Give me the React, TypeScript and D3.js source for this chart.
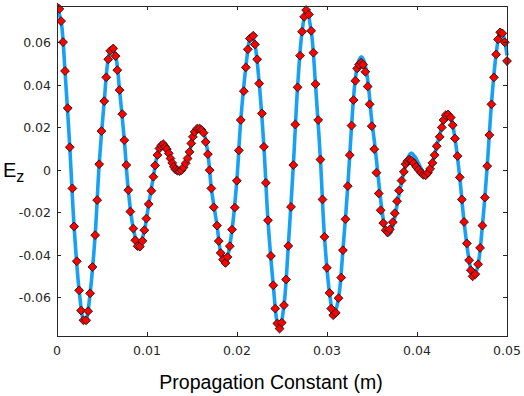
import React from 'react';
import * as d3 from 'd3';

// measured points (red diamonds): [x, Ez]
const markerData: [number, number][] = [
  [0.0, 0.0767], [0.00026, 0.0759], [0.00045, 0.0702], [0.00067, 0.0603], [0.00089, 0.0467],
  [0.00119, 0.0292], [0.00142, 0.0108], [0.00171, -0.0086], [0.0019, -0.0265], [0.0022, -0.0429],
  [0.00246, -0.0566], [0.00268, -0.0661], [0.00294, -0.0707], [0.00324, -0.0707], [0.00346, -0.0664],
  [0.00368, -0.058], [0.00394, -0.0456], [0.00424, -0.0306], [0.00446, -0.0141], [0.00469, 0.0028],
  [0.00494, 0.0184], [0.00525, 0.0325], [0.00547, 0.0437], [0.00569, 0.0522], [0.00592, 0.0562],
  [0.00625, 0.0573], [0.00651, 0.0537], [0.0067, 0.0471], [0.00695, 0.0377], [0.00725, 0.0264],
  [0.00748, 0.0141], [0.0077, 0.0024], [0.00792, -0.0094], [0.00815, -0.0195], [0.00848, -0.0275],
  [0.0087, -0.033], [0.00896, -0.0358], [0.00921, -0.036], [0.00949, -0.0333], [0.00971, -0.0283],
  [0.00993, -0.0228], [0.01019, -0.016], [0.01049, -0.0097], [0.01071, -0.0031], [0.0109, 0.0022],
  [0.01116, 0.0071], [0.01138, 0.0102], [0.01157, 0.0115], [0.0118, 0.0123], [0.01202, 0.011],
  [0.0122, 0.0099], [0.01242, 0.0079], [0.01261, 0.0055], [0.0128, 0.0034], [0.01298, 0.0016],
  [0.01317, 0.0003], [0.01339, -0.0003], [0.01362, -0.0005], [0.01384, 0.0], [0.01406, 0.0013],
  [0.01429, 0.0032], [0.01451, 0.0055], [0.01473, 0.0086], [0.01492, 0.0126], [0.0151, 0.0157],
  [0.01529, 0.018], [0.01559, 0.0196], [0.01585, 0.0196], [0.01607, 0.0189], [0.01629, 0.0176],
  [0.01652, 0.0133], [0.01677, 0.0075], [0.01696, 0.0], [0.01715, -0.0086], [0.01741, -0.0175],
  [0.01778, -0.0261], [0.01797, -0.0334], [0.01819, -0.039], [0.01845, -0.0421], [0.01872, -0.0437],
  [0.01894, -0.0409], [0.0192, -0.0358], [0.01945, -0.028], [0.01975, -0.0176], [0.01998, -0.005],
  [0.0202, 0.0093], [0.02042, 0.0236], [0.02076, 0.0372], [0.02098, 0.0484], [0.0212, 0.0569],
  [0.02143, 0.062], [0.0218, 0.0633], [0.02199, 0.0592], [0.02224, 0.0522], [0.02247, 0.0408],
  [0.02277, 0.0267], [0.02299, 0.011], [0.02321, -0.006], [0.02344, -0.0236], [0.02377, -0.0404],
  [0.02403, -0.0542], [0.02425, -0.0652], [0.02448, -0.0722], [0.02473, -0.0746], [0.02497, -0.0718],
  [0.02522, -0.0636], [0.02545, -0.0515], [0.0257, -0.0357], [0.026, -0.0173], [0.02626, 0.0024],
  [0.02648, 0.0215], [0.02673, 0.039], [0.02701, 0.0539], [0.02723, 0.0652], [0.02746, 0.0722],
  [0.02768, 0.0754], [0.02799, 0.0733], [0.02824, 0.0656], [0.02849, 0.0553], [0.02872, 0.0405],
  [0.02902, 0.0236], [0.02927, 0.005], [0.0295, -0.0138], [0.02972, -0.0314], [0.02999, -0.046],
  [0.03028, -0.0578], [0.03047, -0.0652], [0.03069, -0.0683], [0.03097, -0.0672], [0.03128, -0.0603],
  [0.03158, -0.0506], [0.03177, -0.0377], [0.03205, -0.0231], [0.03231, -0.0075], [0.03253, 0.0071],
  [0.03273, 0.021], [0.03295, 0.033], [0.03315, 0.0421], [0.03335, 0.0479], [0.03356, 0.0497],
  [0.03378, 0.0506], [0.03401, 0.0497], [0.03426, 0.0463], [0.03452, 0.0394], [0.03474, 0.031],
  [0.03497, 0.0207], [0.03525, 0.0099], [0.03549, -0.0012], [0.03575, -0.011], [0.03596, -0.0189],
  [0.03625, -0.0249], [0.03652, -0.0283], [0.03674, -0.0293], [0.03698, -0.0279], [0.03731, -0.0245],
  [0.03753, -0.0203], [0.03778, -0.0146], [0.03801, -0.0096], [0.03828, -0.0049], [0.03854, -0.0008],
  [0.03873, 0.0028], [0.03893, 0.0042], [0.03915, 0.005], [0.0394, 0.0045], [0.03965, 0.0032],
  [0.03992, 0.0016], [0.04018, 0.0002], [0.04044, -0.0012], [0.0407, -0.0022], [0.04096, -0.0024],
  [0.04122, -0.0012], [0.04146, 0.0006], [0.04171, 0.0034], [0.04196, 0.0071], [0.04219, 0.0113],
  [0.04252, 0.0157], [0.04275, 0.0201], [0.04295, 0.0236], [0.04319, 0.0259], [0.04345, 0.0262],
  [0.04375, 0.0248], [0.04397, 0.0212], [0.04422, 0.0149], [0.0445, 0.0066], [0.04475, -0.0034],
  [0.04498, -0.0138], [0.04523, -0.0244], [0.04554, -0.0345], [0.04579, -0.0424], [0.04598, -0.0471],
  [0.04618, -0.05], [0.04648, -0.049], [0.04679, -0.0443], [0.04701, -0.0366], [0.04727, -0.0261],
  [0.04754, -0.0129], [0.0478, 0.0019], [0.04804, 0.0165], [0.04827, 0.031], [0.04855, 0.0437],
  [0.04879, 0.0545], [0.049, 0.0616], [0.04924, 0.0649], [0.04948, 0.0644], [0.04975, 0.0602],
  [0.05, 0.0514],
];

// reference curve (blue line): [x, Ez]
const lineData: [number, number][] = [
  [0.0, 0.0767], [0.00045, 0.0702], [0.00089, 0.0467], [0.00142, 0.0108], [0.0019, -0.0265],
  [0.00246, -0.0566], [0.00294, -0.0707], [0.00309, -0.0712], [0.00324, -0.0707], [0.00368, -0.058],
  [0.00424, -0.0306], [0.00469, 0.0028], [0.00525, 0.0325], [0.00569, 0.0522], [0.00608, 0.0575],
  [0.00651, 0.0537], [0.00695, 0.0377], [0.00748, 0.0141], [0.00792, -0.0094], [0.00848, -0.0275],
  [0.0091, -0.0362], [0.00971, -0.0283], [0.01019, -0.016], [0.01071, -0.0031], [0.01116, 0.0071],
  [0.01172, 0.0123], [0.0122, 0.0099], [0.0128, 0.0034], [0.01339, -0.0003], [0.01384, 0.0],
  [0.01429, 0.0032], [0.01473, 0.0086], [0.01529, 0.018], [0.01574, 0.0198], [0.01629, 0.0176],
  [0.01677, 0.0075], [0.01715, -0.0086], [0.01778, -0.0261], [0.01819, -0.039], [0.01858, -0.0437],
  [0.01894, -0.0409], [0.01945, -0.028], [0.01998, -0.005], [0.02042, 0.0236], [0.02098, 0.0484],
  [0.02143, 0.062], [0.02165, 0.0637], [0.02199, 0.0592], [0.02247, 0.0408], [0.02299, 0.011],
  [0.02344, -0.0236], [0.02403, -0.0542], [0.02448, -0.0722], [0.02473, -0.0746], [0.02522, -0.0636],
  [0.0257, -0.0357], [0.02626, 0.0024], [0.02673, 0.039], [0.02723, 0.0652], [0.0277, 0.0755],
  [0.02824, 0.0656], [0.02872, 0.0405], [0.02927, 0.005], [0.02972, -0.0314], [0.03028, -0.0578],
  [0.03075, -0.0685], [0.03128, -0.0603], [0.03177, -0.0377], [0.03231, -0.0075], [0.03273, 0.021],
  [0.03315, 0.043], [0.03348, 0.051], [0.03382, 0.0534], [0.03415, 0.051], [0.03454, 0.042],
  [0.03493, 0.025], [0.03532, 0.0115], [0.03571, -0.004], [0.03605, -0.017], [0.03638, -0.026],
  [0.03672, -0.0306], [0.03705, -0.0295], [0.03739, -0.025], [0.03778, -0.0165], [0.03817, -0.008],
  [0.03856, -0.0005], [0.03895, 0.0055], [0.03934, 0.008], [0.03973, 0.0066], [0.04013, 0.0035],
  [0.04051, 0.0004], [0.0409, -0.0015], [0.0413, -0.0008], [0.04171, 0.0034], [0.04219, 0.0113],
  [0.04275, 0.0201], [0.04319, 0.0259], [0.04345, 0.0262], [0.04375, 0.0248], [0.04422, 0.0149],
  [0.04475, -0.0034], [0.04523, -0.0244], [0.04579, -0.0424], [0.04618, -0.05], [0.04634, -0.0503],
  [0.04679, -0.0443], [0.04727, -0.0261], [0.0478, 0.0019], [0.04827, 0.031], [0.04879, 0.0545],
  [0.04924, 0.0649], [0.04948, 0.0648], [0.04978, 0.06], [0.05, 0.054],
];

const xTicks = [0, 0.01, 0.02, 0.03, 0.04, 0.05];
const xTickLabels = ['0', '0.01', '0.02', '0.03', '0.04', '0.05'];
const yTicks = [-0.06, -0.04, -0.02, 0, 0.02, 0.04, 0.06];
const yTickLabels = ['-0.06', '-0.04', '-0.02', '0', '0.02', '0.04', '0.06'];

const width = 524;
const height = 396;
const left = 57;
const right = 507;
const top = 6;
const bottom = 336;

const App = () => {
  const x = d3.scaleLinear().domain([0, 0.05]).range([left, right]);
  const y = d3.scaleLinear().domain([-0.0781, 0.0773]).range([bottom, top]);

  const line = d3
    .line<[number, number]>()
    .x((d) => x(d[0]))
    .y((d) => y(d[1]))
    .curve(d3.curveCatmullRom);

  const r = 4.4; // half diagonal of the diamond
  const diamond = `M0,${-r}L${r},0L0,${r}L${-r},0Z`;
  const tickLen = 4;
  const axisColor = '#262626';

  return (
    <svg
      width={width}
      height={height}
      style={{ position: 'absolute', left: 0, top: 0, background: '#fff' }}
    >
      <defs>
        <clipPath id="plotClip">
          <rect x={left} y={top - 8} width={right - left + 8} height={bottom - top + 8} />
        </clipPath>
      </defs>

      {/* curve + markers */}
      <g clipPath="url(#plotClip)">
        <path d={line(lineData) || ''} fill="none" stroke="#18a0f4" strokeWidth={3.6} />
        {markerData.map((d, i) => (
          <path
            key={i}
            d={diamond}
            transform={`translate(${x(d[0])},${y(d[1])})`}
            fill="#ff0000"
            stroke="#2a1a1a"
            strokeWidth={1}
            strokeLinejoin="round"
          />
        ))}
      </g>

      {/* box */}
      <rect
        x={left}
        y={top}
        width={right - left}
        height={bottom - top}
        fill="none"
        stroke={axisColor}
        strokeWidth={1}
        shapeRendering="crispEdges"
      />

      {/* x ticks, top and bottom */}
      {xTicks.map((t, i) => (
        <g key={'x' + i} shapeRendering="crispEdges" stroke={axisColor}>
          <line x1={x(t)} x2={x(t)} y1={bottom} y2={bottom - tickLen} />
          <line x1={x(t)} x2={x(t)} y1={top} y2={top + tickLen} />
        </g>
      ))}
      {xTicks.map((t, i) => (
        <text
          key={'xl' + i}
          x={x(t)}
          y={355}
          textAnchor="middle"
          fontFamily="DejaVu Sans, sans-serif"
          fontSize={12.5}
          fill={axisColor}
        >
          {xTickLabels[i]}
        </text>
      ))}

      {/* y ticks, left and right */}
      {yTicks.map((t, i) => (
        <g key={'y' + i} shapeRendering="crispEdges" stroke={axisColor}>
          <line x1={left} x2={left + tickLen} y1={y(t)} y2={y(t)} />
          <line x1={right} x2={right - tickLen} y1={y(t)} y2={y(t)} />
        </g>
      ))}
      {yTicks.map((t, i) => (
        <text
          key={'yl' + i}
          x={51}
          y={y(t) + 4.5}
          textAnchor="end"
          fontFamily="DejaVu Sans, sans-serif"
          fontSize={12.5}
          fill={axisColor}
        >
          {yTickLabels[i]}
        </text>
      ))}

      {/* axis titles */}
      <text
        x={271}
        y={389}
        textAnchor="middle"
        fontFamily="Liberation Sans, Arial, sans-serif"
        fontSize={19.5}
        fill="#000"
      >
        Propagation Constant (m)
      </text>
      <text x={3} y={177} fontFamily="Liberation Sans, Arial, sans-serif" fontSize={20} fill="#000">
        E
        <tspan fontSize={16} dy={5}>
          z
        </tspan>
      </text>
    </svg>
  );
};

export default App;
